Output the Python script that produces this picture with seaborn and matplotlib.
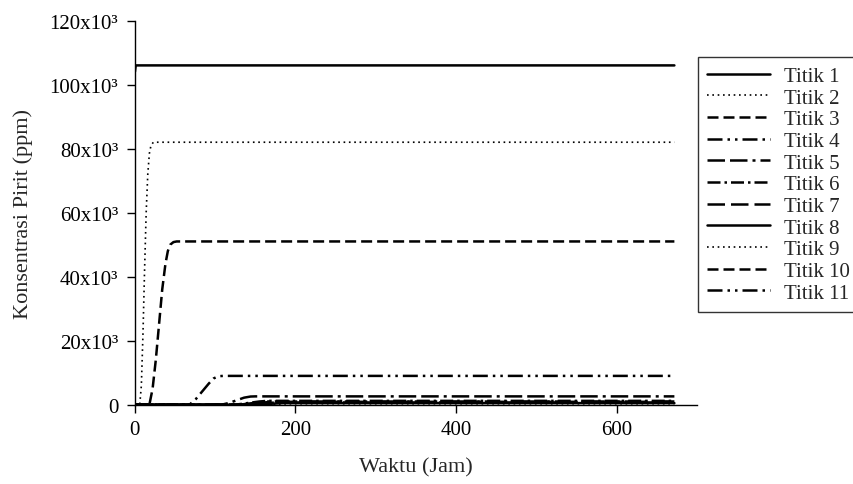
import numpy as np
import pandas as pd
import matplotlib
matplotlib.use("Agg")
import matplotlib.pyplot as plt
import seaborn as sns
from matplotlib.ticker import FuncFormatter

# Pyrite concentration at the monitoring points over time (hours, ppm)
t1 = [0, 1, 672]
c1 = [104000, 106000, 106000]
t2 = [0, 6, 8, 10, 12, 14, 16, 18, 20, 23, 672]
c2 = [0, 0, 6000, 22000, 42000, 60000, 72000, 78500, 81000, 82000, 82000]
t3 = [0, 18, 22, 26, 30, 34, 38, 41, 44, 48, 52, 672]
c3 = [0, 0, 5000, 14000, 25000, 36000, 44000, 48000, 50000, 50800, 51000, 51000]
t4 = [0, 68, 76, 84, 92, 98, 104, 110, 672]
c4 = [0, 0, 1800, 4200, 6600, 8200, 8900, 9000, 9000]
t5 = [0, 108, 118, 128, 136, 144, 150, 672]
c5 = [0, 0, 600, 1500, 2200, 2550, 2600, 2600]
t6 = [0, 125, 140, 155, 165, 672]
c6 = [0, 0, 500, 1000, 1200, 1200]
t7 = [0, 135, 150, 165, 175, 672]
c7 = [0, 0, 400, 800, 900, 900]
t8 = [0, 150, 170, 185, 672]
c8 = [0, 0, 300, 500, 500]
t9 = [0, 160, 180, 195, 672]
c9 = [0, 0, 200, 300, 300]
t10 = [0, 140, 160, 175, 672]
c10 = [0, 0, 400, 700, 700]
t11 = [0, 130, 150, 165, 672]
c11 = [0, 0, 600, 1000, 1000]

names = [f"Titik {i}" for i in range(1, 12)]
times = [t1, t2, t3, t4, t5, t6, t7, t8, t9, t10, t11]
concs = [c1, c2, c3, c4, c5, c6, c7, c8, c9, c10, c11]

df = pd.concat(
    [pd.DataFrame({"Waktu": t, "Konsentrasi": c, "Titik": n})
     for n, t, c in zip(names, times, concs)],
    ignore_index=True,
)

# Line patterns (in units of line width)
solid = ""
dotted = (1.0, 2.2)
dashed = (4.4, 2.0)
dash_dot_dot = (6.0, 2.0, 1.0, 2.0, 1.0, 2.0)
long_long_dot = (7.0, 2.0, 7.0, 2.0, 1.2, 2.0)
dash_dot = (5.2, 1.6, 1.0, 1.6)
long_dash = (7.0, 2.4)
dash_styles = {
    "Titik 1": solid, "Titik 2": dotted, "Titik 3": dashed,
    "Titik 4": dash_dot_dot, "Titik 5": long_long_dot, "Titik 6": dash_dot,
    "Titik 7": long_dash, "Titik 8": solid, "Titik 9": dotted,
    "Titik 10": dashed, "Titik 11": dash_dot_dot,
}

sns.set_style("white")
plt.rcParams["font.family"] = ["Liberation Serif", "DejaVu Serif"]

fig = plt.figure(figsize=(8.54, 4.85), dpi=100)
ax = fig.add_axes([0.158, 0.1635, 0.658, 0.792])

sns.lineplot(
    data=df, x="Waktu", y="Konsentrasi", hue="Titik", style="Titik",
    hue_order=names, style_order=names,
    palette=["black"] * 11, dashes=dash_styles,
    linewidth=1.8, legend=False, ax=ax, sort=False,
)

# dotted series are drawn with a finer pen
for name, line in zip(names, ax.lines):
    if dash_styles[name] == dotted:
        line.set_linewidth(1.2)

ax.set_xlim(0, 700)
ax.set_ylim(0, 120000)
ax.set_xticks([0, 200, 400, 600])
ax.set_yticks(np.arange(0, 120001, 20000))
ax.yaxis.set_major_formatter(
    FuncFormatter(lambda v, p: "0" if v == 0 else f"{int(round(v / 1000))}x10³"))

for side in ["top", "right"]:
    ax.spines[side].set_visible(False)
for side in ["left", "bottom"]:
    ax.spines[side].set_color("black")
    ax.spines[side].set_linewidth(1.0)

ax.tick_params(axis="both", which="major", direction="out", length=6,
               width=1.0, color="black", labelsize=15, labelcolor="black",
               left=True, bottom=True)
ax.tick_params(axis="y", pad=6)
ax.tick_params(axis="x", pad=5)

ax.set_xlabel("Waktu (Jam)", fontsize=16, labelpad=13)
ax.set_ylabel("Konsentrasi Pirit (ppm)", fontsize=16, labelpad=12)

leg = ax.legend(
    ax.lines[:11], names,
    loc="upper left", bbox_to_anchor=(698 / 854, 1 - 58 / 485),
    bbox_transform=fig.transFigure,
    frameon=True, fancybox=False, fontsize=15,
    handlelength=3.0, handletextpad=0.7, labelspacing=0.1,
    borderpad=0.45, borderaxespad=0.0,
)
leg.get_frame().set_edgecolor("black")
leg.get_frame().set_linewidth(1.0)

fig.savefig("out.png", dpi=100, facecolor="white")
